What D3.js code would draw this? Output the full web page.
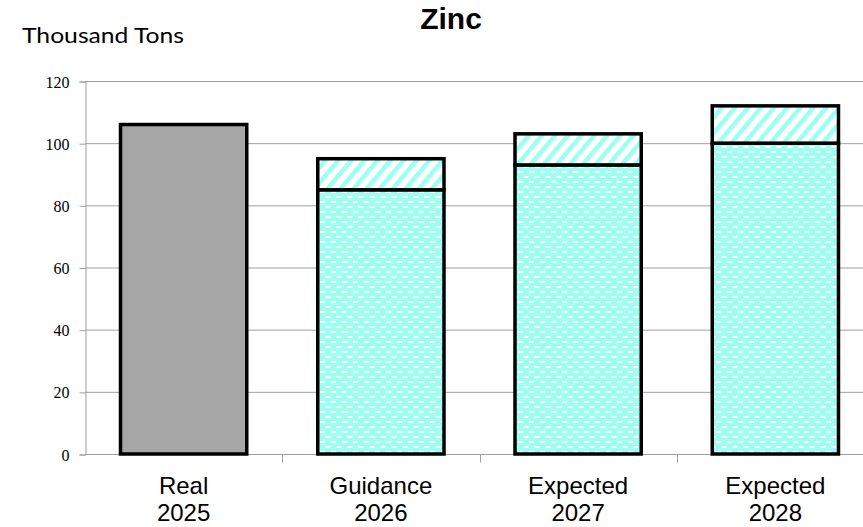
<!DOCTYPE html>
<html><head><meta charset="utf-8">
<script src="https://cdn.jsdelivr.net/npm/d3@7"></script>
<style>body{margin:0;background:#fff}svg{display:block}</style>
</head><body>
<svg id="chart" width="863" height="527"></svg>
<script>
const categories = ["Real 2025","Guidance 2026","Expected 2027","Expected 2028"];
const labelTop = ["Real","Guidance","Expected","Expected"];
const labelBottom = ["2025","2026","2027","2028"];
const baseValues = [106, 85, 93, 100];
const rangeValues = [0, 10, 10, 12];
const isReal = [true, false, false, false];
const yTicks = [0,20,40,60,80,100,120];

const svg = d3.select("#chart");
const W = 863, H = 527;
const mLeft = 85, mRight = 874, mTop = 81, mBottom = 454;

const x = d3.scaleBand().domain(categories).range([mLeft, mRight]).padding(0);
const y = d3.scaleLinear().domain([0,120]).range([mBottom, mTop]);

const defs = svg.append("defs");
const cyan = "#9cfff1";
// brick dash pattern
const p1 = defs.append("pattern").attr("id","dash").attr("patternUnits","userSpaceOnUse")
  .attr("width",11).attr("height",10);
p1.append("rect").attr("width",11).attr("height",10).attr("fill",cyan);
p1.append("rect").attr("x",1).attr("y",1).attr("width",5).attr("height",2).attr("fill","#fff");
p1.append("rect").attr("x",6.5).attr("y",6).attr("width",5).attr("height",2).attr("fill","#fff");
p1.append("rect").attr("x",-4.5).attr("y",6).attr("width",5).attr("height",2).attr("fill","#fff");
// diagonal stripes
const p2 = defs.append("pattern").attr("id","diag").attr("patternUnits","userSpaceOnUse")
  .attr("width",10).attr("height",10).attr("patternTransform","rotate(40)");
p2.append("rect").attr("width",10).attr("height",10).attr("fill","#fff");
p2.append("rect").attr("x",0).attr("width",4.5).attr("height",10).attr("fill",cyan);

// gridlines
svg.append("g").selectAll("line").data(yTicks).join("line")
  .attr("x1",mLeft).attr("x2",W).attr("y1",d=>y(d)+0.5).attr("y2",d=>y(d)+0.5)
  .attr("stroke","#a0a0a0").attr("stroke-width",1);

// y axis
const yAxis = svg.append("g").attr("transform",`translate(${mLeft+0.5},0.5)`)
  .call(d3.axisLeft(y).tickValues(yTicks).tickSize(6).tickPadding(10));
yAxis.attr("font-family",null).attr("font-size",null);
yAxis.select(".domain").attr("stroke","#a0a0a0");
yAxis.selectAll(".tick line").attr("stroke","#a0a0a0");
yAxis.selectAll(".tick text")
  .style("font-family","'Liberation Serif','Times New Roman',serif")
  .style("font-size","16px").attr("fill","#000").attr("dy","0.35em");

// x axis
const xAxisG = svg.append("g").attr("transform",`translate(0,${mBottom+0.5})`);
xAxisG.append("line").attr("x1",mLeft).attr("x2",mRight).attr("stroke","#a0a0a0");
xAxisG.selectAll("line.t").data(categories).join("line").attr("class","t")
  .attr("x1",d=>Math.round(x(d)+x.bandwidth())+0.5).attr("x2",d=>Math.round(x(d)+x.bandwidth())+0.5)
  .attr("y1",0).attr("y2",8).attr("stroke","#a0a0a0");

const bw = x.bandwidth()*0.64;
const bx = d => x(d) + (x.bandwidth()-bw)/2;

const bars = svg.append("g");
categories.forEach((c,i)=>{
  bars.append("rect").attr("x",bx(c)).attr("y",y(baseValues[i]))
    .attr("width",bw).attr("height",y(0)-y(baseValues[i]))
    .attr("fill",isReal[i] ? "#a6a6a6" : "url(#dash)")
    .attr("stroke","#000").attr("stroke-width",3.5);
  if(rangeValues[i]>0){
    bars.append("rect").attr("x",bx(c)).attr("y",y(baseValues[i]+rangeValues[i]))
      .attr("width",bw).attr("height",y(baseValues[i])-y(baseValues[i]+rangeValues[i]))
      .attr("fill","url(#diag)").attr("stroke","#000").attr("stroke-width",3.5);
  }
});

// x labels
const xl = svg.append("g").style("font-family","'Liberation Sans', Arial, sans-serif")
  .style("font-size","24px").attr("text-anchor","middle").attr("fill","#000");
categories.forEach((c,i)=>{
  const cx = x(c)+x.bandwidth()/2;
  xl.append("text").attr("x",cx).attr("y",494).text(labelTop[i]);
  xl.append("text").attr("x",cx).attr("y",521).text(labelBottom[i]);
});

// title
svg.append("text").attr("x",451).attr("y",29).attr("text-anchor","middle")
  .style("font-family","'Liberation Sans', Arial, sans-serif").style("font-weight","bold")
  .style("font-size","30px").text("Zinc");
svg.append("text").attr("x",22).attr("y",43)
  .style("font-family","Lato, 'Open Sans', sans-serif").style("font-size","22px")
  .attr("textLength",162).attr("lengthAdjust","spacingAndGlyphs").text("Thousand Tons");
</script>
</body></html>
